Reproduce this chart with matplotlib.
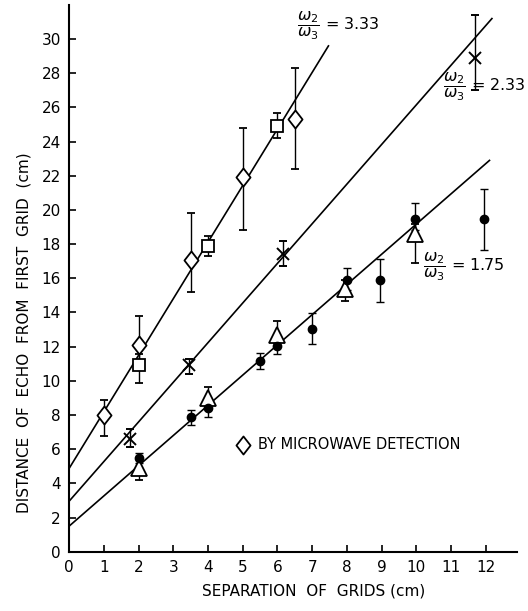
import matplotlib.pyplot as plt
import numpy as np
from matplotlib.path import Path

# diamonds: by microwave detection
dia_x = [1, 2, 3.5, 5, 6.5]
dia_y = [8.0, 12.1, 17.1, 21.9, 25.3]
dia_lo = [6.8, 10.9, 15.2, 18.8, 22.4]
dia_hi = [8.9, 13.8, 19.8, 24.8, 28.3]

# squares
sq_x = [2, 4, 6]
sq_y = [10.9, 17.9, 24.9]
sq_lo = [9.9, 17.3, 24.2]
sq_hi = [11.6, 18.5, 25.7]

# crosses
cr_x = [1.76, 3.45, 6.15, 11.7]
cr_y = [6.6, 10.9, 17.4, 28.9]
cr_lo = [6.1, 10.4, 16.7, 27.0]
cr_hi = [7.2, 11.3, 18.2, 31.4]

# open triangles
tri_x = [2, 4, 6, 7.95, 9.97]
tri_y = [4.9, 9.0, 12.7, 15.4, 18.6]
tri_lo = [4.2, 8.6, 12.2, 14.7, 16.9]
tri_hi = [5.5, 9.65, 13.5, 15.9, 19.2]

# filled dots
dot_x = [2, 3.5, 4, 5.5, 6, 7, 8, 8.95, 9.97, 11.96]
dot_y = [5.5, 7.9, 8.4, 11.15, 12.05, 13.06, 15.9, 15.9, 19.45, 19.45]
dot_lo = [5.2, 7.4, 7.9, 10.7, 11.6, 12.15, 15.3, 14.6, 18.8, 17.65]
dot_hi = [5.8, 8.3, 8.65, 11.65, 12.4, 13.95, 16.6, 17.15, 20.4, 21.25]

# fitted lines (intercept at x=0, end point)
line_b = [4.88, 2.96, 1.5]
line_xend = [7.47, 12.18, 12.11]
line_yend = [29.6, 31.2, 22.9]
ratios = ["3.33", "2.33", "1.75"]

plt.rcParams['font.family'] = 'DejaVu Sans'
fig = plt.figure(figsize=(5.28, 6.11), dpi=100)
ax = fig.add_axes([0.131, 0.097, 0.848, 0.895])

# slightly squat diamond, like the hand-drawn one
dmark = Path([(0, 1), (0.78, 0), (0, -1), (-0.78, 0), (0, 1)],
             [Path.MOVETO, Path.LINETO, Path.LINETO, Path.LINETO, Path.CLOSEPOLY])

for b, xe, ye in zip(line_b, line_xend, line_yend):
    ax.plot([0, xe], [b, ye], "k-", lw=1.2)

def errs(y, lo, hi):
    y = np.array(y)
    return [y - np.array(lo), np.array(hi) - y]

ekw = dict(ecolor="k", elinewidth=1.0, capsize=3, capthick=1.0, linestyle="none")
ax.errorbar(dia_x, dia_y, yerr=errs(dia_y, dia_lo, dia_hi), marker=dmark, ms=13,
            mfc="white", mec="k", mew=1.3, **ekw)
ax.errorbar(sq_x, sq_y, yerr=errs(sq_y, sq_lo, sq_hi), marker="s", ms=8,
            mfc="white", mec="k", mew=1.3, **ekw)
ax.errorbar(cr_x, cr_y, yerr=errs(cr_y, cr_lo, cr_hi), marker="x", ms=8,
            mec="k", mew=1.4, **ekw)
ax.errorbar(tri_x, tri_y, yerr=errs(tri_y, tri_lo, tri_hi), marker="^", ms=11,
            mfc="white", mec="k", mew=1.3, **ekw)
ax.errorbar(dot_x, dot_y, yerr=errs(dot_y, dot_lo, dot_hi), marker="o", ms=6,
            mfc="k", mec="k", **ekw)

# ratio labels
lab_pos = [(6.57, 30.8), (10.78, 27.2), (10.2, 16.7)]
for (lx, ly), r in zip(lab_pos, ratios):
    ax.text(lx, ly, r"$\dfrac{\omega_2}{\omega_3}$" + " = " + r,
            fontsize=11.5, ha="left", va="center")

# legend entry
ax.plot([5.0], [6.25], marker=dmark, ms=13, mfc="white", mec="k", mew=1.3)
ax.text(5.45, 6.25, "BY MICROWAVE DETECTION", fontsize=10.5, va="center")

ax.set_xlim(0, 12.9)
ax.set_ylim(0, 32)
ax.set_xticks(np.arange(0, 13, 1))
ax.set_yticks(np.arange(0, 31, 2))
ax.tick_params(direction="in", length=5, width=1.2, labelsize=11, pad=6)
for s in ["top", "right"]:
    ax.spines[s].set_visible(False)
for s in ["left", "bottom"]:
    ax.spines[s].set_linewidth(1.5)

ax.set_xlabel("SEPARATION  OF  GRIDS (cm)", fontsize=11)
ax.set_ylabel("DISTANCE  OF  ECHO  FROM  FIRST  GRID  (cm)", fontsize=11)
ax.xaxis.set_label_coords(0.545, -0.058)
ax.yaxis.set_label_coords(-0.085, 0.40)

fig.savefig("out.png", dpi=100)
